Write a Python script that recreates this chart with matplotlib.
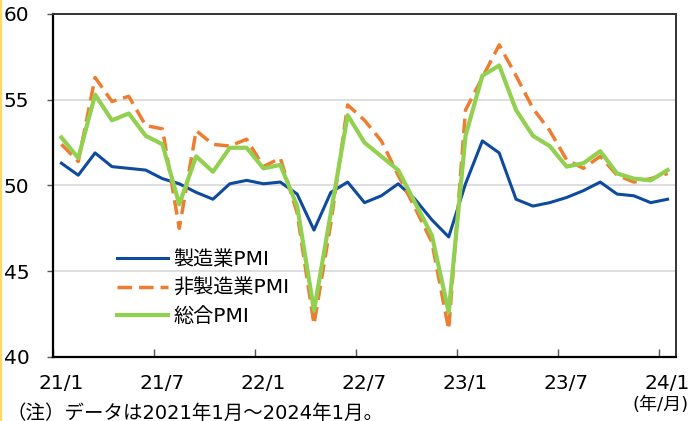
import matplotlib
matplotlib.use("Agg")
import matplotlib.pyplot as plt
from matplotlib.lines import Line2D
import numpy as np

plt.rcParams['font.family'] = ['DejaVu Sans', 'Noto Sans CJK JP']

tick_labels = ["21/1", "21/7", "22/1", "22/7", "23/1", "23/7", "24/1"]

manufacturing = [51.3, 50.6, 51.9, 51.1, 51.0, 50.9, 50.4, 50.1, 49.6, 49.2, 50.1, 50.3,
                 50.1, 50.2, 49.5, 47.4, 49.6, 50.2, 49.0, 49.4, 50.1, 49.2, 48.0, 47.0,
                 50.1, 52.6, 51.9, 49.2, 48.8, 49.0, 49.3, 49.7, 50.2, 49.5, 49.4, 49.0,
                 49.2]
non_manufacturing = [52.4, 51.4, 56.3, 54.9, 55.2, 53.5, 53.3, 47.5, 53.2, 52.4, 52.3, 52.7,
                     51.1, 51.6, 48.4, 41.9, 47.8, 54.7, 53.8, 52.6, 50.6, 48.7, 46.7, 41.6,
                     54.4, 56.3, 58.2, 56.4, 54.5, 53.2, 51.5, 51.0, 51.7, 50.6, 50.2, 50.4,
                     50.7]
composite = [52.8, 51.6, 55.3, 53.8, 54.2, 52.9, 52.4, 48.9, 51.7, 50.8, 52.2, 52.2,
             51.0, 51.2, 48.8, 42.7, 48.4, 54.1, 52.5, 51.7, 50.9, 49.0, 47.1, 42.6,
             52.9, 56.4, 57.0, 54.4, 52.9, 52.3, 51.1, 51.3, 52.0, 50.7, 50.4, 50.3,
             50.9]

series_names = ["製造業PMI", "非製造業PMI", "総合PMI"]

fig = plt.figure(figsize=(6.89, 4.21), dpi=100)
ax = fig.add_axes([53/689, (421-357)/421, (676-53)/689, (357-14)/421])

x = np.arange(len(manufacturing))
ax.plot(x, manufacturing, color='#0E4A9E', lw=2.2, label=series_names[0], zorder=3)
l2, = ax.plot(x, non_manufacturing, color='#ED7D31', lw=2.5, label=series_names[1], zorder=4)
l2.set_dashes([4.2, 2.0])
ax.plot(x, composite, color='#92D050', lw=3.0, label=series_names[2], zorder=5)

ax.set_xlim(-0.5, len(manufacturing) - 0.5)
ax.set_ylim(40, 60)
ax.set_yticks([40, 45, 50, 55, 60])
ax.yaxis.grid(True, color='#D9D9D9', lw=1.2)
ax.set_axisbelow(True)
ax.tick_params(axis='y', direction='out', length=4, width=1, labelsize=14.5, pad=13, color='#555555')

# major ticks at category boundaries (no labels), minor ticks at points with labels
major = [-0.5 + 6*k for k in range(len(tick_labels))]
ax.set_xticks(major)
ax.set_xticklabels([])
ax.set_xticks([6*k for k in range(len(tick_labels))], minor=True)
ax.set_xticklabels(tick_labels, minor=True)
ax.tick_params(axis='x', which='major', direction='in', length=6, width=1, color='#555555')
ax.tick_params(axis='x', which='minor', length=0, labelsize=14.5, pad=12.5)

for s in ['left', 'bottom']:
    ax.spines[s].set_color('black')
    ax.spines[s].set_linewidth(1.6)
for s in ['top', 'right']:
    ax.spines[s].set_color('#333333')
    ax.spines[s].set_linewidth(1.4)

leg = ax.legend(loc='center left', bbox_to_anchor=(0.103, 0.201), frameon=False,
                fontsize=14.5, handlelength=2.5, handletextpad=0.3, labelspacing=0.45,
                borderpad=0, borderaxespad=0)

fig.text(6/689, 1 - 413/421, "（注）データは2021年1月～2024年1月。", fontsize=14,
         ha='left', va='center')
fig.text(689/689, 1 - 396/421, "(年/月)", fontsize=13, ha='right', va='top')

fig.add_artist(Line2D([1/689, 1/689], [0, 1], color='#FFD966', lw=1.6,
                      transform=fig.transFigure))

fig.savefig("out.png", dpi=100)
